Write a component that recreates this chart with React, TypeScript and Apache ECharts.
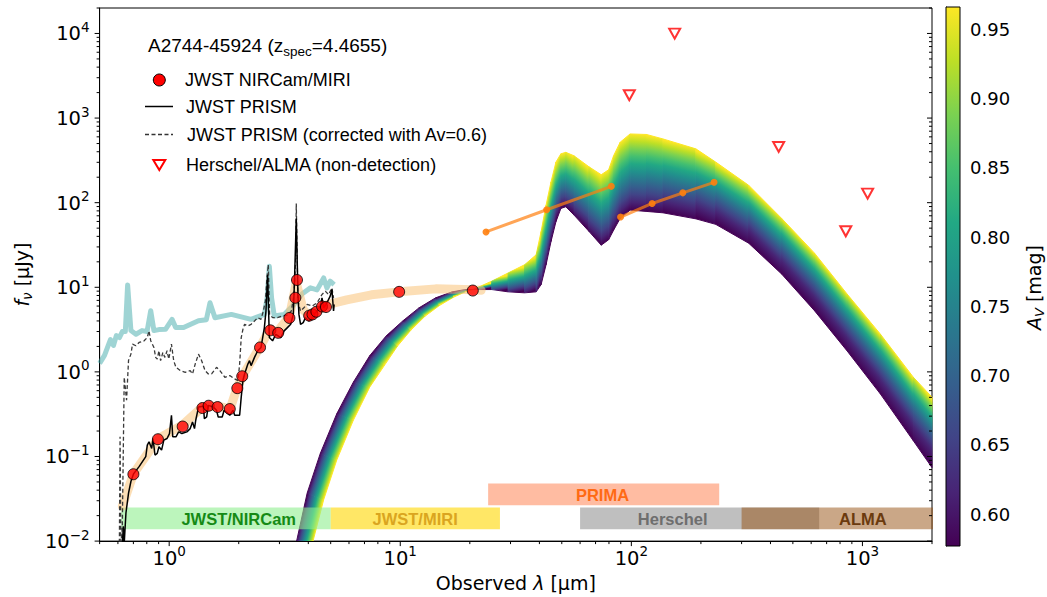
import React, { useEffect, useRef } from "react";
import * as echarts from "echarts";

// ---------------- axis ranges ----------------
const X_MIN = 0.5;
const X_MAX = 2000;
const Y_MIN = 0.01;
const Y_MAX = 20000;
const AV_MIN = 0.577;
const AV_MAX = 0.966;
const AV_TICKS = [0.6, 0.65, 0.7, 0.75, 0.8, 0.85, 0.9, 0.95];

// ---------------- photometry (JWST NIRCam / MIRI) ----------------
const photWave = [0.70, 0.894, 1.144, 1.393, 1.482, 1.62, 1.829, 1.972, 2.071, 2.473, 2.74, 2.964, 3.313, 3.515, 3.574, 4.035, 4.169, 4.335, 4.585, 4.77, 9.89, 20.6];
const photFlux = [0.0617, 0.160, 0.226, 0.374, 0.398, 0.384, 0.364, 0.642, 0.888, 1.944, 3.10, 2.893, 4.34, 7.51, 12.2, 4.62, 4.78, 5.14, 5.94, 5.84, 8.83, 9.15];

// ---------------- Herschel / ALMA upper limits ----------------
const ulWave = [98, 154, 434, 847, 1053];
const ulFlux = [1862, 9950, 456, 45.9, 128];

// ---------------- PRIMA ----------------
const primaAWave = [23.5, 43.0, 81.9];
const primaAFlux = [45.1, 82.5, 156];
const primaBWave = [89.8, 123, 167, 228];
const primaBFlux = [67.6, 97.9, 130.7, 174];

// ---------------- JWST PRISM spectrum ----------------
const prismWave = [0.627, 0.633, 0.639, 0.650, 0.667, 0.683, 0.701, 0.741, 0.792, 0.804, 0.818, 0.840, 0.851, 0.868, 0.888, 0.903, 0.927, 0.948, 0.979, 1.003, 1.023, 1.036, 1.070, 1.099, 1.135, 1.193, 1.233, 1.262, 1.287, 1.303, 1.339, 1.406, 1.420, 1.453, 1.477, 1.552, 1.603, 1.630, 1.696, 1.729, 1.768, 1.829, 1.889, 1.921, 2.018, 2.050, 2.085, 2.120, 2.190, 2.227, 2.262, 2.340, 2.417, 2.497, 2.582, 2.623, 2.667, 2.713, 2.802, 2.893, 3.040, 3.144, 3.248, 3.356, 3.444, 3.489, 3.548, 3.608, 3.644, 3.702, 3.802, 3.889, 4.022, 4.114, 4.226, 4.364, 4.508, 4.585, 4.662, 4.816, 4.975, 5.060, 5.144, 5.175];
const prismFlux = [0.009, 0.015, 0.0095, 0.0215, 0.0369, 0.0506, 0.0623, 0.0759, 0.0995, 0.1365, 0.1492, 0.1245, 0.1631, 0.1041, 0.1088, 0.1303, 0.1192, 0.1562, 0.1631, 0.1867, 0.307, 0.1708, 0.1708, 0.1955, 0.1867, 0.1955, 0.2137, 0.2562, 0.2137, 0.2683, 0.384, 0.3915, 0.280, 0.2932, 0.402, 0.384, 0.3513, 0.2932, 0.2932, 0.3513, 0.3355, 0.307, 0.3513, 0.307, 0.307, 0.503, 0.790, 0.945, 1.238, 1.357, 1.186, 1.484, 1.778, 1.944, 3.338, 5.243, 14.0, 2.547, 2.330, 2.785, 2.547, 3.053, 3.338, 3.650, 4.78, 12.89, 65.0, 8.21, 4.78, 3.650, 3.821, 4.373, 4.0, 4.178, 4.78, 5.243, 6.0, 7.51, 5.73, 6.56, 7.86, 9.40, 5.243, 6.27];

// ---------------- JWST PRISM corrected (Av=0.6) ----------------
const corrWave = [0.605, 0.609, 0.613, 0.618, 0.627, 0.639, 0.654, 0.667, 0.683, 0.694, 0.718, 0.741, 0.779, 0.804, 0.818, 0.832, 0.859, 0.874, 0.888, 0.903, 0.918, 0.939, 0.958, 0.979, 0.996, 1.023, 1.046, 1.070, 1.118, 1.174, 1.233, 1.262, 1.296, 1.339, 1.382, 1.430, 1.477, 1.526, 1.603, 1.657, 1.741, 1.829, 1.921, 1.985, 2.018, 2.050, 2.085, 2.120, 2.190, 2.262, 2.340, 2.417, 2.497, 2.556, 2.608, 2.649, 2.685, 2.720, 2.802, 2.943, 3.092, 3.248, 3.379, 3.469, 3.525, 3.548, 3.608, 3.702, 3.828, 3.954, 4.154, 4.364, 4.585, 4.736, 4.897, 5.060, 5.144];
const corrFlux = [0.008, 0.0105, 0.171, 0.009, 0.015, 0.864, 0.464, 1.368, 1.622, 2.126, 2.036, 2.226, 2.330, 2.547, 3.053, 2.330, 1.944, 1.484, 1.417, 1.778, 1.357, 1.698, 1.484, 1.778, 1.417, 2.126, 1.357, 1.132, 1.036, 0.989, 1.036, 0.945, 1.238, 1.622, 1.357, 1.036, 0.945, 0.945, 1.132, 1.036, 0.864, 0.905, 0.826, 0.790, 1.238, 2.547, 3.188, 3.650, 3.495, 3.650, 4.0, 4.373, 4.178, 5.243, 6.87, 12.89, 18.47, 4.78, 4.373, 4.373, 4.579, 4.705, 5.243, 8.21, 20.24, 97.9, 6.87, 5.243, 5.73, 6.27, 6.0, 6.56, 8.21, 9.0, 8.21, 9.84, 7.51];

// ---------------- cyan comparison spectrum ----------------
const cyanWave = [0.50, 0.525, 0.541, 0.557, 0.574, 0.591, 0.609, 0.627, 0.646, 0.661, 0.683, 0.718, 0.763, 0.802, 0.832, 0.859, 0.903, 0.964, 1.029, 1.067, 1.154, 1.339, 1.448, 1.502, 1.578, 1.858, 2.262, 2.582, 2.654, 2.713, 2.774, 2.849, 3.144, 3.469, 3.765, 4.086, 4.364, 4.662, 4.816, 4.975, 5.175];
const cyanFlux = [1.261, 1.566, 1.944, 2.413, 2.052, 2.689, 2.547, 2.996, 2.996, 10.67, 3.077, 2.785, 3.077, 2.996, 5.285, 3.077, 3.162, 3.188, 4.178, 3.338, 3.338, 4.033, 4.143, 6.56, 4.373, 4.78, 4.178, 4.78, 7.51, 17.69, 7.51, 4.579, 4.78, 6.27, 8.37, 9.84, 9.32, 12.89, 9.84, 11.8, 10.76];

// ---------------- best-fit SED (shaded) ----------------
const fitWave = [0.627, 0.701, 0.894, 1.144, 1.392, 1.630, 1.834, 1.965, 2.085, 2.465, 2.720, 2.943, 3.312, 3.548, 3.802, 4.033, 4.364, 4.816, 5.865, 7.503, 9.88, 14.23, 20.69, 22.39];
const fitFlux = [0.0258, 0.0628, 0.1618, 0.236, 0.384, 0.395, 0.364, 0.642, 0.912, 1.944, 3.162, 2.996, 4.494, 11.27, 5.43, 4.616, 5.285, 6.216, 7.114, 8.14, 8.83, 9.58, 9.32, 9.2];

// ---------------- dust model fan: envelope at Av min (purple) and Av max (yellow) ----------------
const fanLowAvWave = [3.44, 3.56, 3.954, 4.508, 5.313, 6.264, 7.376, 8.697, 10.25, 12.07, 14.23, 16.77, 19.12, 20.63, 24.87, 29.29, 34.52, 38.73, 40.69, 42.75, 44.91, 47.18, 49.55, 52.05, 56.49, 65.5, 74.06, 79.74, 83.75, 89.46, 98.74, 116.3, 137.0, 190.2, 231.7, 321.9, 446.8, 620.3, 861.8, 1197, 1661, 2000];
const fanLowAvFlux = [0.0067, 0.0100, 0.0369, 0.1088, 0.3205, 0.755, 1.554, 2.668, 4.0, 5.73, 7.51, 8.83, 9.40, 9.40, 9.40, 8.83, 8.60, 8.83, 10.76, 18.47, 34.76, 59.69, 85.5, 89.5, 71.35, 45.9, 31.45, 36.5, 47.2, 65.25, 81.66, 78.8, 75.9, 64.4, 55.5, 33.2, 14.37, 5.285, 1.745, 0.546, 0.1532, 0.0739];
const fanHighAvWave = [4.04, 4.154, 4.662, 5.313, 6.264, 7.376, 8.57, 9.736, 11.09, 12.8, 14.76, 17.02, 19.12, 20.63, 24.87, 29.29, 34.52, 38.73, 40.69, 42.75, 44.91, 47.18, 49.55, 52.05, 56.49, 65.5, 74.06, 79.74, 83.75, 89.46, 98.74, 116.3, 137.0, 190.2, 231.7, 321.9, 446.8, 620.3, 861.8, 1197, 1661, 2000];
const fanHighAvFlux = [0.0067, 0.00907, 0.0309, 0.0910, 0.268, 0.660, 1.211, 2.025, 3.095, 4.555, 6.08, 7.65, 8.83, 9.40, 11.8, 14.76, 18.47, 24.2, 45.55, 93.5, 175.9, 302, 378, 393.7, 358, 266, 214, 245, 358, 518.6, 649, 640, 567, 432.7, 302, 160.5, 65.25, 25.33, 8.21, 2.785, 0.864, 0.503];

// ---------------- instrument coverage bands ----------------
const bandNames = ["JWST/NIRCam", "JWST/MIRI", "PRIMA", "Herschel", "ALMA"];
const bandWaveMin = [0.62, 5.0, 24, 60, 300];
const bandWaveMax = [5.0, 27, 240, 650, 3000];
const bandFluxMin = [0.0138, 0.0138, 0.0265, 0.0138, 0.0138];
const bandFluxMax = [0.025, 0.025, 0.048, 0.025, 0.025];
const bandLabelWave = [2.0, 11.6, 75, 151, 1005];

// ---------------- styles ----------------
const SANS = "'Liberation Sans', Arial, Helvetica, sans-serif";
const DV = "'DejaVu Sans', sans-serif";
const BAND_FILL = ["rgba(144,238,144,0.6)", "rgba(255,215,0,0.6)", "rgba(255,160,122,0.7)", "rgba(128,128,128,0.5)", "rgba(150,80,15,0.5)"];
const BAND_TEXT = ["#158a15", "#daa520", "#ff6a14", "#6e6e6e", "#6b3a0e"];
const VIRIDIS = ["#440154", "#482475", "#414487", "#355f8d", "#2a788e", "#21918c", "#22a884", "#44bf70", "#7ad151", "#bddf26", "#fde725"];
const LEG_FS = 18;

function viridisStops(gamma: number) {
  return VIRIDIS.map((c, i) => ({ offset: Math.pow(i / (VIRIDIS.length - 1), 1 / gamma), color: c }));
}
function gammaFor(w: number) {
  const t = Math.min(1, Math.max(0, (Math.log10(w) - 2) / (Math.log10(500) - 2)));
  return 1 + 0.6 * t;
}
const pairs = (xs: number[], ys: number[]) => xs.map((x, i) => [x, ys[i]]);

const tickRich = {
  b: { fontFamily: DV, fontSize: 19.5, color: "#000", verticalAlign: "bottom", lineHeight: 21 },
  s: { fontFamily: DV, fontSize: 13.5, color: "#000", verticalAlign: "bottom", lineHeight: 14, padding: [0, 0, 10, 0] },
};
function fmtPow(v: number) {
  const l = Math.log10(v);
  const e = Math.round(l);
  if (Math.abs(l - e) > 1e-6) return "";
  return `{b|10}{s|${e < 0 ? "\u2212" + -e : e}}`;
}

function buildTicks() {
  const xMaj: number[] = [], xMin: number[] = [], yMaj: number[] = [], yMin: number[] = [];
  for (let p = -2; p <= 4; p++) {
    const d = Math.pow(10, p);
    if (d >= X_MIN && d <= X_MAX) xMaj.push(d);
    if (d >= Y_MIN && d <= Y_MAX) yMaj.push(d);
    for (let k = 2; k <= 9; k++) {
      const v = k * d;
      if (v >= X_MIN && v <= X_MAX * 1.0001) xMin.push(v);
      if (v >= Y_MIN && v <= Y_MAX * 1.0001) yMin.push(v);
    }
  }
  return { xMaj, xMin, yMaj, yMin };
}

export default function App() {
  const ref = useRef<HTMLDivElement>(null);
  useEffect(() => {
    const chart = echarts.init(ref.current!, null, { renderer: "svg" });
    const T = buildTicks();

    const legText = (x: number, y: number, text: string) => ({
      type: "text", z: 100, x, y, style: { text, fontFamily: SANS, fontSize: LEG_FS, fill: "#000", verticalAlign: "middle" },
    });

    const option: any = {
      animation: false,
      backgroundColor: "#fff",
      grid: [
        { left: 90, right: 115, top: 8, bottom: 52, show: true, borderColor: "#000", borderWidth: 1, backgroundColor: "transparent" },
        { left: 946, width: 26, top: 7, bottom: 51 },
      ],
      xAxis: [
        {
          type: "log", logBase: 10, gridIndex: 0, min: X_MIN, max: X_MAX,
          axisLine: { show: true, lineStyle: { color: "#000", width: 1 } },
          axisTick: { show: false }, splitLine: { show: false }, minorTick: { show: false },
          axisLabel: { formatter: fmtPow, rich: tickRich, margin: 6, showMinLabel: false, showMaxLabel: false },
          name: "{t|Observed }{i|λ}{t| [μm]}", nameLocation: "middle", nameGap: 29,
          nameTextStyle: { rich: { t: { fontFamily: DV, fontSize: 19, color: "#000" }, i: { fontFamily: DV, fontSize: 19, fontStyle: "italic", color: "#000" } } },
        },
        { type: "value", gridIndex: 1, min: 0, max: 1, show: false },
      ],
      yAxis: [
        {
          type: "log", logBase: 10, gridIndex: 0, min: Y_MIN, max: Y_MAX,
          axisLine: { show: true, lineStyle: { color: "#000", width: 1 } },
          axisTick: { show: false }, splitLine: { show: false }, minorTick: { show: false },
          axisLabel: { formatter: fmtPow, rich: tickRich, margin: 10, showMaxLabel: false },
          name: "{i|f}{s|ν}{t| [μJy]}", nameLocation: "middle", nameGap: 62, nameRotate: 90,
          nameTextStyle: {
            rich: {
              i: { fontFamily: DV, fontSize: 19, fontStyle: "italic", color: "#000", verticalAlign: "top", lineHeight: 22 },
              s: { fontFamily: DV, fontSize: 13.5, fontStyle: "italic", color: "#000", verticalAlign: "bottom", lineHeight: 13, padding: [12, 0, 0, 0] },
              t: { fontFamily: DV, fontSize: 19, color: "#000", verticalAlign: "top", lineHeight: 22 },
            },
          },
        },
        {
          type: "value", gridIndex: 1, min: AV_MIN, max: AV_MAX, position: "right",
          axisLine: { show: true, lineStyle: { color: "#000", width: 1 } },
          axisTick: { show: true, length: 5, customValues: AV_TICKS, lineStyle: { color: "#000" } },
          axisLabel: { customValues: AV_TICKS, formatter: (v: number) => v.toFixed(2), fontFamily: DV, fontSize: 18, color: "#000", margin: 10 },
          splitLine: { show: false },
          name: "{i|A}{s|V}{t| [mag]}", nameLocation: "middle", nameGap: 64, nameRotate: 90,
          nameTextStyle: {
            padding: [0, 22, 0, 0],
            rich: {
              i: { fontFamily: DV, fontSize: 19, fontStyle: "italic", color: "#000", verticalAlign: "top", lineHeight: 22 },
              s: { fontFamily: DV, fontSize: 13, fontStyle: "italic", color: "#000", verticalAlign: "bottom", lineHeight: 13, padding: [11, 0, 0, 0] },
              t: { fontFamily: DV, fontSize: 19, color: "#000", verticalAlign: "top", lineHeight: 22 },
            },
          },
        },
      ],
      series: [
        {
          name: "dust-fan", type: "custom", xAxisIndex: 0, yAxisIndex: 0, z: 2, clip: true, silent: true,
          data: [[1, 1]],
          renderItem: (params: any, api: any) => {
            const P = fanLowAvWave.map((w, i) => api.coord([w, fanLowAvFlux[i]]));
            const Y = fanHighAvWave.map((w, i) => api.coord([w, fanHighAvFlux[i]]));
            const children: any[] = [];
            for (let i = 0; i < P.length - 1; i++) {
              const p0 = P[i], p1 = P[i + 1], y0 = Y[i], y1 = Y[i + 1];
              const pmx = (p0[0] + p1[0]) / 2, pmy = (p0[1] + p1[1]) / 2;
              const ymx = (y0[0] + y1[0]) / 2, ymy = (y0[1] + y1[1]) / 2;
              let dx = p1[0] - p0[0] + (y1[0] - y0[0]);
              let dy = p1[1] - p0[1] + (y1[1] - y0[1]);
              const L = Math.hypot(dx, dy) || 1;
              dx /= L; dy /= L;
              const nx = -dy, ny = dx;
              let proj = (ymx - pmx) * nx + (ymy - pmy) * ny;
              if (Math.abs(proj) < 1) proj = proj < 0 ? -1 : 1;
              const g = gammaFor(Math.sqrt(fanLowAvWave[i] * fanLowAvWave[i + 1]));
              const mk = () => new echarts.graphic.LinearGradient(pmx, pmy, pmx + nx * proj, pmy + ny * proj, viridisStops(g), true);
              children.push({ type: "polygon", shape: { points: [p0, p1, y1, y0] }, style: { fill: mk(), stroke: mk(), lineWidth: 1 } });
            }
            return { type: "group", children };
          },
        },
        {
          name: "bands", type: "custom", xAxisIndex: 0, yAxisIndex: 0, z: 3, clip: true, silent: true,
          data: bandNames.map((_, i) => [bandWaveMin[i], bandWaveMax[i], bandFluxMin[i], bandFluxMax[i]]),
          encode: { x: [0, 1], y: [2, 3] },
          renderItem: (params: any, api: any) => {
            const i = params.dataIndex;
            const a = api.coord([bandWaveMin[i], bandFluxMax[i]]);
            const b = api.coord([bandWaveMax[i], bandFluxMin[i]]);
            const c = api.coord([bandLabelWave[i], Math.sqrt(bandFluxMin[i] * bandFluxMax[i])]);
            return {
              type: "group",
              children: [
                { type: "rect", shape: { x: a[0], y: a[1], width: b[0] - a[0], height: b[1] - a[1] }, style: { fill: BAND_FILL[i] } },
                { type: "text", x: c[0], y: c[1] + 1, style: { text: bandNames[i], fill: BAND_TEXT[i], font: `bold 16.5px ${SANS}`, align: "center", verticalAlign: "middle" } },
              ],
            };
          },
        },
        {
          name: "cyan", type: "line", z: 3, data: pairs(cyanWave, cyanFlux), showSymbol: false, symbol: "none", silent: true,
          lineStyle: { color: "rgba(64,170,170,0.5)", width: 5, join: "round" },
        },
        {
          name: "fit", type: "line", z: 3, data: pairs(fitWave, fitFlux), showSymbol: false, symbol: "none", silent: true,
          lineStyle: { color: "rgba(250,195,120,0.55)", width: 9, join: "round", cap: "round" },
        },
        {
          name: "JWST PRISM (corrected with Av=0.6)", type: "line", z: 4, data: pairs(corrWave, corrFlux), showSymbol: false, symbol: "none", silent: true,
          lineStyle: { color: "#3a3a3a", width: 1.3, type: [4, 2.5] },
        },
        {
          name: "JWST PRISM", type: "line", z: 4, data: pairs(prismWave, prismFlux), showSymbol: false, symbol: "none", silent: true,
          lineStyle: { color: "#000", width: 1.5 },
        },
        {
          name: "PRIMA-a", type: "line", z: 6, data: pairs(primaAWave, primaAFlux), symbol: "circle", symbolSize: 7, showSymbol: true, silent: true,
          lineStyle: { color: "#ff7f0e", width: 3, opacity: 0.7 }, itemStyle: { color: "#ff7f0e", opacity: 0.9 },
        },
        {
          name: "PRIMA-b", type: "line", z: 6, data: pairs(primaBWave, primaBFlux), symbol: "circle", symbolSize: 7, showSymbol: true, silent: true,
          lineStyle: { color: "#ff7f0e", width: 3, opacity: 0.7 }, itemStyle: { color: "#ff7f0e", opacity: 0.9 },
        },
        {
          name: "JWST NIRCam/MIRI", type: "scatter", z: 7, data: pairs(photWave, photFlux), symbol: "circle", symbolSize: 11, silent: true,
          itemStyle: { color: "#ff0000", borderColor: "#000", borderWidth: 1 },
        },
        {
          name: "Herschel/ALMA (non-detection)", type: "scatter", z: 7, data: pairs(ulWave, ulFlux), symbol: "triangle", symbolRotate: 180, symbolSize: [11, 10], silent: true,
          itemStyle: { color: "#fff", borderColor: "#ff0000", borderWidth: 2 },
        },
        {
          name: "ticks", type: "custom", xAxisIndex: 0, yAxisIndex: 0, z: 8, clip: false, silent: true,
          data: [[1, 1]],
          renderItem: (params: any, api: any) => {
            const ch: any[] = [];
            const ln = (x1: number, y1: number, x2: number, y2: number) =>
              ch.push({ type: "line", shape: { x1, y1, x2, y2 }, style: { stroke: "#000", lineWidth: 1 } });
            T.xMaj.forEach((v) => { const p = api.coord([v, Y_MIN]); ln(p[0], p[1], p[0], p[1] + 5); });
            T.xMin.forEach((v) => { const p = api.coord([v, Y_MIN]); ln(p[0], p[1], p[0], p[1] + 3); });
            T.yMaj.forEach((v) => {
              const p = api.coord([X_MIN, v]); ln(p[0] - 5, p[1], p[0], p[1]);
              const q = api.coord([X_MAX, v]); ln(q[0] - 5, q[1], q[0], q[1]);
            });
            T.yMin.forEach((v) => {
              const p = api.coord([X_MIN, v]); ln(p[0] - 3, p[1], p[0], p[1]);
              const q = api.coord([X_MAX, v]); ln(q[0] - 3, q[1], q[0], q[1]);
            });
            return { type: "group", children: ch };
          },
        },
        {
          name: "colorbar", type: "custom", xAxisIndex: 1, yAxisIndex: 1, z: 2, silent: true,
          data: [[0.5, (AV_MIN + AV_MAX) / 2]],
          renderItem: (params: any, api: any) => {
            const a = api.coord([0, AV_MAX]);
            const b = api.coord([1, AV_MIN]);
            const stops = VIRIDIS.map((c, i) => ({ offset: 1 - i / (VIRIDIS.length - 1), color: c })).reverse();
            return {
              type: "rect",
              shape: { x: a[0], y: a[1], width: b[0] - a[0], height: b[1] - a[1] },
              style: { fill: new echarts.graphic.LinearGradient(0, 0, 0, 1, stops), stroke: "#000", lineWidth: 1 },
            };
          },
        },
      ],
      graphic: [
        {
          type: "text", x: 148, y: 47, z: 100,
          style: {
            text: "{n|A2744-45924 (z}{s|spec}{n|=4.4655)}", verticalAlign: "middle",
            rich: {
              n: { fontFamily: SANS, fontSize: 19, fill: "#000", verticalAlign: "top", lineHeight: 22 },
              s: { fontFamily: SANS, fontSize: 13.5, fill: "#000", verticalAlign: "bottom", lineHeight: 13, padding: [13, 0, 0, 0] },
            },
          },
        },
        { type: "circle", z: 100, shape: { cx: 159.3, cy: 80, r: 6 }, style: { fill: "#ff0000", stroke: "#000", lineWidth: 1 } },
        legText(185, 80, "JWST NIRCam/MIRI"),
        { type: "line", z: 100, shape: { x1: 145, y1: 106.5, x2: 173, y2: 106.5 }, style: { stroke: "#000", lineWidth: 1.5 } },
        legText(186, 107, "JWST PRISM"),
        { type: "line", z: 100, shape: { x1: 145, y1: 134.5, x2: 173, y2: 134.5 }, style: { stroke: "#333", lineWidth: 1.5, lineDash: [4, 2.5] } },
        legText(187, 135, "JWST PRISM (corrected with Av=0.6)"),
        { type: "polygon", z: 100, shape: { points: [[153.3, 160], [165.3, 160], [159.3, 170]] }, style: { fill: "#fff", stroke: "#ff0000", lineWidth: 2 } },
        legText(186, 165, "Herschel/ALMA (non-detection)"),
      ],
    };

    chart.setOption(option);
    return () => chart.dispose();
  }, []);

  return <div ref={ref} style={{ position: "absolute", left: 0, top: 0, width: 1047, height: 597 }} />;
}
